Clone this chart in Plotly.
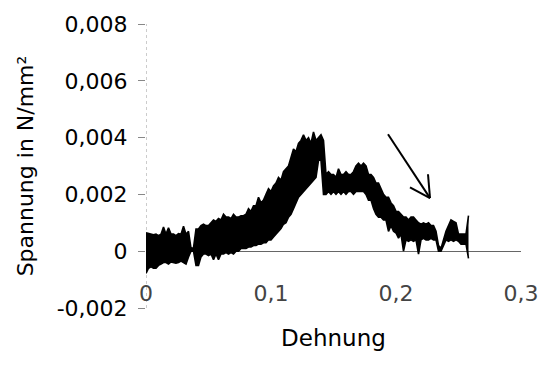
import plotly.graph_objects as go

# Dehnung (strain) and the upper / lower edge of the noisy Spannung band (N/mm²),
# read from the scanned chart
strain = [
    0.000, 0.002, 0.004, 0.006, 0.008, 0.010, 0.012, 0.014, 0.016, 0.018,
    0.020, 0.022, 0.024, 0.026, 0.028, 0.030, 0.032, 0.034, 0.036, 0.038,
    0.040, 0.042, 0.044, 0.046, 0.048, 0.050, 0.052, 0.054, 0.056, 0.058,
    0.060, 0.062, 0.064, 0.066, 0.068, 0.070, 0.072, 0.074, 0.076, 0.078,
    0.080, 0.082, 0.084, 0.086, 0.088, 0.090, 0.092, 0.094, 0.096, 0.098,
    0.100, 0.102, 0.104, 0.106, 0.108, 0.110, 0.112, 0.114, 0.116, 0.118,
    0.120, 0.122, 0.124, 0.126, 0.128, 0.130, 0.132, 0.134, 0.136, 0.138,
    0.140, 0.142, 0.144, 0.146, 0.148, 0.150, 0.152, 0.154, 0.156, 0.158,
    0.160, 0.162, 0.164, 0.166, 0.168, 0.170, 0.172, 0.174, 0.176, 0.178,
    0.180, 0.182, 0.184, 0.186, 0.188, 0.190, 0.192, 0.194, 0.196, 0.198,
    0.200, 0.202, 0.204, 0.206, 0.208, 0.210, 0.212, 0.214, 0.216, 0.218,
    0.220, 0.222, 0.224, 0.226, 0.228, 0.230, 0.232, 0.234, 0.236, 0.238,
    0.240, 0.242, 0.244, 0.246, 0.248, 0.250, 0.252, 0.254, 0.256, 0.258,
]
stress_upper = [
    0.00065, 0.00062, 0.00060, 0.00058, 0.00060, 0.00055, 0.00060, 0.00085, 0.00060, 0.00082,
    0.00060, 0.00060, 0.00055, 0.00062, 0.00060, 0.00088, 0.00060, 0.00070, 0.00010, 0.00012,
    0.00078, 0.00078, 0.00090, 0.00095, 0.00090, 0.00090, 0.00100, 0.00110, 0.00105, 0.00115,
    0.00110, 0.00130, 0.00120, 0.00120, 0.00115, 0.00130, 0.00120, 0.00120, 0.00125, 0.00125,
    0.00130, 0.00150, 0.00140, 0.00160, 0.00160, 0.00190, 0.00170, 0.00180, 0.00200, 0.00220,
    0.00210, 0.00230, 0.00240, 0.00260, 0.00250, 0.00280, 0.00290, 0.00300, 0.00330, 0.00360,
    0.00350, 0.00380, 0.00390, 0.00410, 0.00390, 0.00400, 0.00380, 0.00420, 0.00390, 0.00400,
    0.00410, 0.00390, 0.00270, 0.00280, 0.00270, 0.00270, 0.00260, 0.00290, 0.00270, 0.00270,
    0.00280, 0.00270, 0.00270, 0.00280, 0.00300, 0.00310, 0.00300, 0.00310, 0.00300, 0.00270,
    0.00270, 0.00260, 0.00240, 0.00240, 0.00220, 0.00200, 0.00190, 0.00190, 0.00170, 0.00160,
    0.00140, 0.00140, 0.00130, 0.00120, 0.00120, 0.00110, 0.00120, 0.00120, 0.00110, 0.00100,
    0.00095, 0.00100, 0.00095, 0.00100, 0.00090, 0.00090, 0.00070, 0.00020, 0.00010, 0.00040,
    0.00070, 0.00090, 0.00110, 0.00105, 0.00100, 0.00060, 0.00060, 0.00060, 0.00060, 0.00125,
]
stress_lower = [
    -0.00078, -0.00060, -0.00055, -0.00060, -0.00060, -0.00050, -0.00045, -0.00040, -0.00040, -0.00045,
    -0.00038, -0.00040, -0.00042, -0.00040, -0.00035, -0.00040, -0.00045, -0.00020, 0.00000, 0.00000,
    -0.00050, -0.00050, -0.00020, -0.00010, -0.00010, -0.00015, -0.00010, -0.00030, -0.00010, -0.00030,
    -0.00010, -0.00010, -0.00005, -0.00010, -0.00005, -0.00010, 0.00000, 0.00000, 0.00010, 0.00010,
    0.00010, 0.00015, 0.00015, 0.00020, 0.00020, 0.00025, 0.00025, 0.00030, 0.00030, 0.00040,
    0.00040, 0.00050, 0.00060, 0.00070, 0.00080, 0.00095, 0.00100, 0.00120, 0.00130, 0.00150,
    0.00170, 0.00190, 0.00200, 0.00210, 0.00220, 0.00230, 0.00240, 0.00250, 0.00260, 0.00320,
    0.00320, 0.00200, 0.00200, 0.00210, 0.00200, 0.00210, 0.00200, 0.00210, 0.00200, 0.00210,
    0.00200, 0.00210, 0.00210, 0.00200, 0.00210, 0.00210, 0.00210, 0.00210, 0.00200, 0.00180,
    0.00180, 0.00150, 0.00130, 0.00120, 0.00120, 0.00110, 0.00110, 0.00070, 0.00090, 0.00070,
    0.00064, 0.00046, 0.00060, 0.00000, 0.00040, 0.00035, 0.00040, 0.00035, 0.00040, -0.00010,
    0.00040, 0.00045, 0.00040, 0.00040, 0.00045, 0.00040, 0.00040, 0.00000, 0.00000, 0.00020,
    0.00040, 0.00035, 0.00040, 0.00035, 0.00040, 0.00035, 0.00025, 0.00025, 0.00025, -0.00025,
]

x_ticks = [0, 0.1, 0.2, 0.3]
x_labels = ["0", "0,1", "0,2", "0,3"]
y_ticks = [-0.002, 0, 0.002, 0.004, 0.006, 0.008]
y_labels = ["-0,002", "0", "0,002", "0,004", "0,006", "0,008"]

# hand-drawn arrow in the scan (data coordinates)
arrow_start = (0.1936, 0.00412)
arrow_tip = (0.2272, 0.00187)
barb_a = (0.2112, 0.00225)
barb_b = (0.2256, 0.00271)

FONT = "DejaVu Sans, Liberation Sans, Arial"

fig = go.Figure()
fig.add_trace(go.Scatter(x=strain, y=stress_lower, mode="lines",
                         line=dict(color="black", width=1.6), hoverinfo="skip"))
fig.add_trace(go.Scatter(x=strain, y=stress_upper, mode="lines",
                         line=dict(color="black", width=1.6),
                         fill="tonexty", fillcolor="black", hoverinfo="skip"))

shapes = [
    dict(type="line", xref="x", yref="y", x0=0, x1=0, y0=y_ticks[0], y1=y_ticks[-1],
         line=dict(color="#9a9a9a", width=1, dash="dot"), layer="below"),
]
for end in (arrow_start, barb_a, barb_b):
    shapes.append(dict(type="line", xref="x", yref="y", x0=end[0], y0=end[1],
                       x1=arrow_tip[0], y1=arrow_tip[1],
                       line=dict(color="black", width=2)))

fig.update_layout(
    width=543, height=365,
    margin=dict(l=146, r=22, t=24, b=57, autoexpand=False),
    paper_bgcolor="white", plot_bgcolor="white",
    showlegend=False,
    font=dict(family=FONT, size=22, color="black"),
    shapes=shapes,
    xaxis=dict(range=[0, 0.3], tickvals=x_ticks, ticktext=x_labels,
               ticks="", showline=False, showgrid=False, zeroline=False,
               ticklabelposition="inside", ticklabeloverflow="allow",
               automargin=False,
               tickfont=dict(size=22),
               title=dict(text="Dehnung", font=dict(size=23), standoff=25)),
    yaxis=dict(range=[-0.002, 0.008], tickvals=y_ticks, ticktext=y_labels,
               ticks="outside", ticklen=7, tickcolor="#888", tickwidth=1,
               ticklabelstandoff=6, automargin=False,
               showline=False, showgrid=False,
               zeroline=True, zerolinecolor="#666", zerolinewidth=1,
               tickfont=dict(size=22),
               title=dict(text="Spannung in N/mm²", font=dict(size=22), standoff=16)),
)

fig.write_html("out.html")
